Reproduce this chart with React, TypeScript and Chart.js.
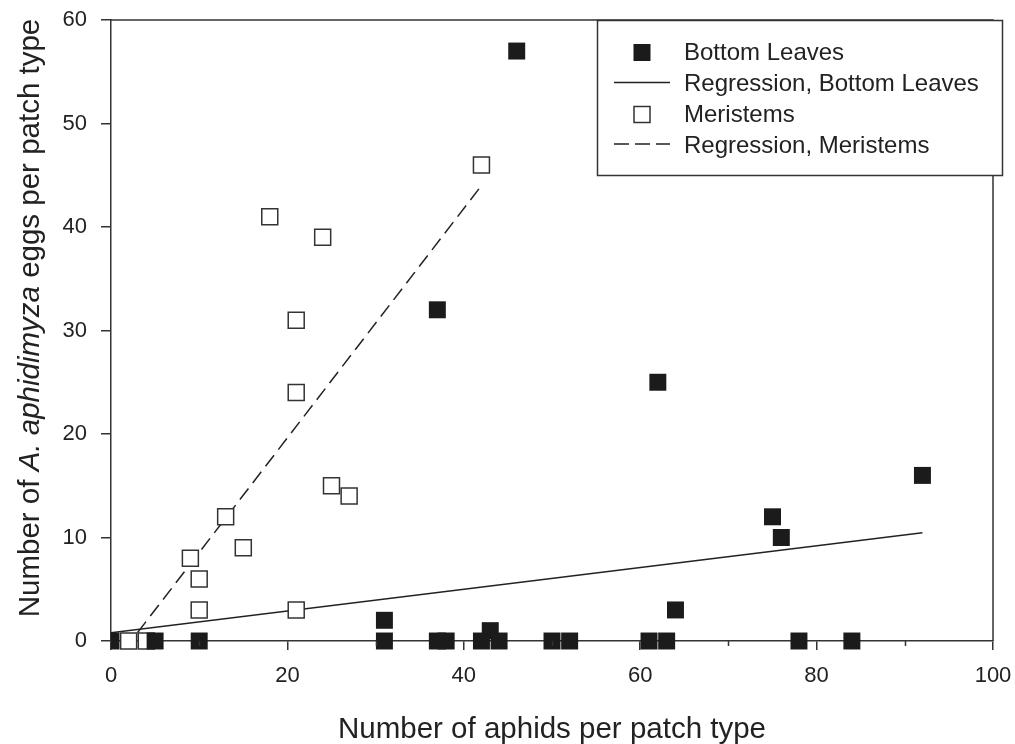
import React, { useEffect, useRef } from 'react';
import { Chart, registerables } from 'chart.js';

Chart.register(...registerables);

// Bottom leaves: aphids per patch vs. A. aphidimyza eggs
const leavesX = [0, 5, 10, 31, 31, 37, 38, 37, 42, 43, 44, 46, 50, 52, 61, 63, 62, 64, 75, 76, 78, 84, 92];
const leavesY = [0, 0, 0, 0, 2, 0, 0, 32, 0, 1, 0, 57, 0, 0, 0, 0, 25, 3, 12, 10, 0, 0, 16];

// Meristems
const meristemX = [2, 4, 9, 10, 10, 13, 15, 18, 21, 21, 21, 24, 25, 27, 42];
const meristemY = [0, 0, 8, 6, 3, 12, 9, 41, 31, 24, 3, 39, 15, 14, 46];

// Fitted regression lines (end points)
const leavesFitX = [0, 92];
const leavesFitY = [0.8, 10.46];
const meristemFitX = [3, 42];
const meristemFitY = [0.8, 44.0];

// Axis ticks
const xMajorStep = 20;
const xMinorTicks = [10, 30, 50, 70, 90];
const yStep = 10;

const legendLabels = ['Bottom Leaves', 'Regression, Bottom Leaves', 'Meristems', 'Regression, Meristems'];
const xTitle = 'Number of aphids per patch type';
const yTitleParts = ['Number of ', 'A. aphidimyza', ' eggs per patch type'];

const FONT = "'Liberation Sans', Arial, Helvetica, sans-serif";
const INK = '#222222';
const AXIS = '#333333';
const FILL = '#1b1b1b';

const toPoints = (xs: number[], ys: number[]) => xs.map((x, i) => ({ x, y: ys[i] }));

const decorations = {
  id: 'decorations',
  afterDraw(chart: any) {
    const { ctx, chartArea: a, scales } = chart;
    ctx.save();

    // top and right frame lines
    ctx.strokeStyle = AXIS;
    ctx.lineWidth = 1.5;
    ctx.beginPath();
    ctx.moveTo(a.left, a.top);
    ctx.lineTo(a.right, a.top);
    ctx.lineTo(a.right, a.bottom);
    ctx.stroke();

    // minor ticks on the x axis
    ctx.beginPath();
    for (const v of xMinorTicks) {
      const px = Math.round(scales.x.getPixelForValue(v)) + 0.5;
      ctx.moveTo(px, a.bottom);
      ctx.lineTo(px, a.bottom + 5);
    }
    ctx.stroke();

    // x axis title
    ctx.fillStyle = INK;
    ctx.font = `29.5px ${FONT}`;
    ctx.textAlign = 'center';
    ctx.textBaseline = 'alphabetic';
    ctx.fillText(xTitle, (a.left + a.right) / 2, 738);

    // y axis title with italic species name
    ctx.save();
    ctx.translate(39, 318);
    ctx.rotate(-Math.PI / 2);
    ctx.textAlign = 'left';
    const fonts = [`29.5px ${FONT}`, `italic 29.5px ${FONT}`, `29.5px ${FONT}`];
    const widths = yTitleParts.map((t, i) => {
      ctx.font = fonts[i];
      return ctx.measureText(t).width;
    });
    let cx = -widths.reduce((s, w) => s + w, 0) / 2;
    yTitleParts.forEach((t, i) => {
      ctx.font = fonts[i];
      ctx.fillText(t, cx, 0);
      cx += widths[i];
    });
    ctx.restore();

    // legend box
    const bx = 597.5, by = 20.5, bw = 405, bh = 155;
    ctx.fillStyle = '#ffffff';
    ctx.fillRect(bx, by, bw, bh);
    ctx.strokeStyle = AXIS;
    ctx.lineWidth = 1.5;
    ctx.strokeRect(bx, by, bw, bh);

    const textX = 684;
    const baselines = [60, 91, 122, 153];
    const mx = 642;

    // filled square
    ctx.fillStyle = FILL;
    ctx.fillRect(mx - 8.5, baselines[0] - 16, 17, 17);
    // solid line
    ctx.strokeStyle = INK;
    ctx.lineWidth = 1.5;
    ctx.beginPath();
    ctx.moveTo(614, baselines[1] - 8.5);
    ctx.lineTo(670, baselines[1] - 8.5);
    ctx.stroke();
    // open square
    ctx.fillStyle = '#ffffff';
    ctx.fillRect(mx - 8, baselines[2] - 15.5, 16, 16);
    ctx.strokeStyle = AXIS;
    ctx.strokeRect(mx - 8, baselines[2] - 15.5, 16, 16);
    // dashed line
    ctx.strokeStyle = INK;
    ctx.setLineDash([15, 6]);
    ctx.beginPath();
    ctx.moveTo(614, baselines[3] - 9);
    ctx.lineTo(670, baselines[3] - 9);
    ctx.stroke();
    ctx.setLineDash([]);

    ctx.fillStyle = INK;
    ctx.font = `24px ${FONT}`;
    ctx.textAlign = 'left';
    ctx.textBaseline = 'alphabetic';
    legendLabels.forEach((t, i) => ctx.fillText(t, textX, baselines[i]));

    ctx.restore();
  },
};

export default function App() {
  const ref = useRef<HTMLCanvasElement>(null);

  useEffect(() => {
    const canvas = ref.current;
    if (!canvas) return;
    const chart = new Chart(canvas, {
      type: 'scatter',
      data: {
        datasets: [
          {
            label: legendLabels[0],
            data: toPoints(leavesX, leavesY),
            pointStyle: 'rect',
            pointRadius: 12,
            backgroundColor: FILL,
            borderWidth: 0,
            showLine: false,
            order: 0,
            clip: { left: 0, top: false, right: false, bottom: false },
          } as any,
          {
            label: legendLabels[1],
            data: toPoints(leavesFitX, leavesFitY),
            showLine: true,
            borderColor: INK,
            borderWidth: 1.5,
            pointRadius: 0,
            order: 2,
          },
          {
            label: legendLabels[2],
            data: toPoints(meristemX, meristemY),
            pointStyle: 'rect',
            pointRadius: 11.3,
            backgroundColor: '#ffffff',
            borderColor: AXIS,
            borderWidth: 1.5,
            showLine: false,
            order: 1,
            clip: false,
          } as any,
          {
            label: legendLabels[3],
            data: toPoints(meristemFitX, meristemFitY),
            showLine: true,
            borderColor: INK,
            borderWidth: 1.5,
            borderDash: [14, 7],
            pointRadius: 0,
            order: 2,
          },
        ],
      },
      options: {
        responsive: false,
        animation: false,
        devicePixelRatio: 1,
        layout: { padding: { top: 20, right: 22, left: 0, bottom: 0 } },
        plugins: { legend: { display: false }, tooltip: { enabled: false } },
        scales: {
          x: {
            type: 'linear',
            min: 0,
            max: 100,
            afterFit: (s: any) => {
              s.height = 103;
              s.paddingLeft = 0;
              s.paddingRight = 0;
            },
            ticks: {
              stepSize: xMajorStep,
              font: { family: FONT, size: 22 },
              color: INK,
              padding: 13,
              maxRotation: 0,
            },
            grid: { display: true, drawOnChartArea: false, drawTicks: true, tickLength: 9, color: AXIS, lineWidth: 1.5 },
            border: { display: true, color: AXIS, width: 1.5 },
          },
          y: {
            type: 'linear',
            min: 0,
            max: 60,
            afterFit: (s: any) => {
              s.width = 111;
              s.paddingTop = 0;
              s.paddingBottom = 0;
            },
            ticks: {
              stepSize: yStep,
              font: { family: FONT, size: 22 },
              color: INK,
              padding: 14,
            },
            grid: { display: true, drawOnChartArea: false, drawTicks: true, tickLength: 10, color: AXIS, lineWidth: 1.5 },
            border: { display: true, color: AXIS, width: 1.5 },
          },
        },
      } as any,
      plugins: [decorations],
    });
    return () => chart.destroy();
  }, []);

  return (
    <div style={{ position: 'absolute', left: 0, top: 0, width: 1015, height: 744, background: '#ffffff' }}>
      <canvas ref={ref} width={1015} height={744} style={{ display: 'block', width: 1015, height: 744 }} />
    </div>
  );
}
